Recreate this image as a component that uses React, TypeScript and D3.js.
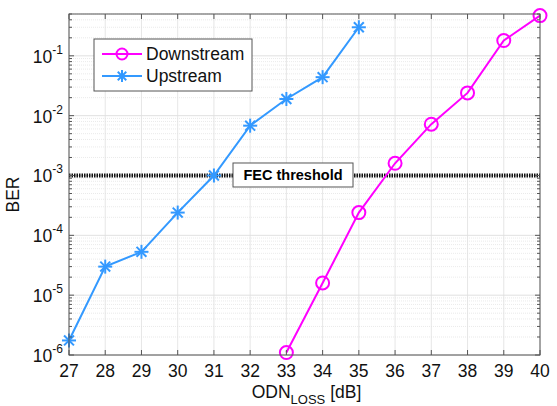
import { useEffect, useRef } from "react"
import * as d3 from "d3"

const xTicks = [27, 28, 29, 30, 31, 32, 33, 34, 35, 36, 37, 38, 39, 40]
const yDecades = [-6, -5, -4, -3, -2, -1]

const downX = [33, 34, 35, 36, 37, 38, 39, 40]
const downBER = [1.1e-6, 1.6e-5, 2.4e-4, 1.6e-3, 7.2e-3, 2.4e-2, 0.18, 0.47]

const upX = [27, 28, 29, 30, 31, 32, 33, 34, 35]
const upBER = [1.75e-6, 3.0e-5, 5.3e-5, 2.4e-4, 1.0e-3, 6.8e-3, 1.9e-2, 4.4e-2, 0.3]

const fecLevel = 1e-3
const fecLabel = "FEC threshold"
const seriesNames = ["Downstream", "Upstream"]

const W = 557
const H = 406
const margin = { top: 14, right: 17, bottom: 51, left: 69 }
const FONT = "Liberation Sans, Arial, sans-serif"
const PINK = "#ff00ff"
const BLUE = "#3399ff"

function asterisk(g: d3.Selection<SVGGElement, unknown, null, undefined>, cx: number, cy: number, r: number, color: string) {
  const a = g.append("g").attr("transform", `translate(${cx},${cy})`)
  for (let k = 0; k < 4; k++) {
    const ang = (k * Math.PI) / 4
    a.append("line")
      .attr("x1", -r * Math.cos(ang)).attr("y1", -r * Math.sin(ang))
      .attr("x2", r * Math.cos(ang)).attr("y2", r * Math.sin(ang))
      .attr("stroke", color).attr("stroke-width", 2)
  }
}

export default function App() {
  const ref = useRef<SVGSVGElement>(null)

  useEffect(() => {
    if (!ref.current) return
    const svg = d3.select(ref.current)
    svg.selectAll("*").remove()

    const iw = W - margin.left - margin.right
    const ih = H - margin.top - margin.bottom

    const x = d3.scaleLinear().domain([27, 40]).range([0, iw])
    const y = d3.scaleLog().domain([1e-6, 0.5]).range([ih, 0])

    svg.append("rect").attr("width", W).attr("height", H).attr("fill", "#fff")
    const g = svg.append("g").attr("transform", `translate(${margin.left},${margin.top})`)

    // minor grid
    const minor: number[] = []
    for (const d of yDecades) {
      for (let m = 2; m <= 9; m++) {
        const v = m * Math.pow(10, d)
        if (v <= 0.5) minor.push(v)
      }
    }
    g.selectAll(".ymin").data(minor).enter().append("line")
      .attr("x1", 0).attr("x2", iw)
      .attr("y1", d => y(d)).attr("y2", d => y(d))
      .attr("stroke", "#e4e4e4").attr("stroke-width", 0.8).attr("stroke-dasharray", "1,1")

    // major grid
    g.selectAll(".ymaj").data(yDecades).enter().append("line")
      .attr("x1", 0).attr("x2", iw)
      .attr("y1", d => y(Math.pow(10, d))).attr("y2", d => y(Math.pow(10, d)))
      .attr("stroke", "#d8d8d8").attr("stroke-width", 0.8)
    g.selectAll(".xmaj").data(xTicks).enter().append("line")
      .attr("y1", 0).attr("y2", ih)
      .attr("x1", d => x(d)).attr("x2", d => x(d))
      .attr("stroke", "#e0e0e0").attr("stroke-width", 0.8)

    // FEC threshold
    g.append("line")
      .attr("x1", 0).attr("x2", iw)
      .attr("y1", y(fecLevel)).attr("y2", y(fecLevel))
      .attr("stroke", "#111").attr("stroke-width", 4).attr("stroke-dasharray", "1.5,1")

    // lines
    const line = d3.line<[number, number]>().x(d => x(d[0])).y(d => y(d[1]))
    const upData = upX.map((v, i) => [v, upBER[i]] as [number, number])
    const downData = downX.map((v, i) => [v, downBER[i]] as [number, number])

    g.append("path").datum(upData).attr("d", line)
      .attr("fill", "none").attr("stroke", BLUE).attr("stroke-width", 2)
    upData.forEach(d => asterisk(g, x(d[0]), y(d[1]), 7, BLUE))

    g.append("path").datum(downData).attr("d", line)
      .attr("fill", "none").attr("stroke", PINK).attr("stroke-width", 2)
    g.selectAll(".dm").data(downData).enter().append("circle")
      .attr("cx", d => x(d[0])).attr("cy", d => y(d[1])).attr("r", 6.5)
      .attr("fill", "none").attr("stroke", PINK).attr("stroke-width", 2)

    // FEC label
    const fx = 164, fw = 120, fh = 24
    g.append("rect")
      .attr("x", fx).attr("y", y(fecLevel) - fh / 2 - 0.5).attr("width", fw).attr("height", fh)
      .attr("fill", "#fff").attr("stroke", "#555").attr("stroke-width", 1)
    g.append("text")
      .attr("x", fx + fw / 2).attr("y", y(fecLevel) + 5)
      .attr("text-anchor", "middle")
      .style("font-family", FONT).style("font-size", "14.5px").style("font-weight", "bold")
      .text(fecLabel)

    // axes box and ticks
    g.append("rect").attr("width", iw).attr("height", ih)
      .attr("fill", "none").attr("stroke", "#555").attr("stroke-width", 1)
    xTicks.forEach(t => {
      g.append("line").attr("x1", x(t)).attr("x2", x(t)).attr("y1", ih).attr("y2", ih - 5).attr("stroke", "#555")
      g.append("line").attr("x1", x(t)).attr("x2", x(t)).attr("y1", 0).attr("y2", 5).attr("stroke", "#555")
      g.append("text").attr("x", x(t)).attr("y", ih + 22)
        .attr("text-anchor", "middle")
        .style("font-family", FONT).style("font-size", "17.5px").attr("fill", "#111")
        .text(String(t))
    })
    yDecades.forEach(d => {
      const yy = y(Math.pow(10, d))
      g.append("line").attr("x1", 0).attr("x2", 5).attr("y1", yy).attr("y2", yy).attr("stroke", "#555")
      g.append("line").attr("x1", iw).attr("x2", iw - 5).attr("y1", yy).attr("y2", yy).attr("stroke", "#555")
      const t = g.append("text").attr("x", -6).attr("y", yy + 7)
        .attr("text-anchor", "end")
        .style("font-family", FONT).style("font-size", "17.5px").attr("fill", "#111")
      t.append("tspan").text("10")
      t.append("tspan").attr("dy", -9).style("font-size", "12px").text(String(d))
    })
    minor.forEach(v => {
      const yy = y(v)
      g.append("line").attr("x1", 0).attr("x2", 3).attr("y1", yy).attr("y2", yy).attr("stroke", "#555")
      g.append("line").attr("x1", iw).attr("x2", iw - 3).attr("y1", yy).attr("y2", yy).attr("stroke", "#555")
    })

    // axis labels
    const xl = g.append("text").attr("x", iw / 2 + 2).attr("y", ih + 43)
      .attr("text-anchor", "middle")
      .style("font-family", FONT).style("font-size", "17.5px").attr("fill", "#111")
    xl.append("tspan").text("ODN")
    xl.append("tspan").attr("dy", 6).style("font-size", "13px").text("LOSS")
    xl.append("tspan").attr("dy", -6).text(" [dB]")

    g.append("text")
      .attr("transform", `translate(${-50},${ih / 2 + 10}) rotate(-90)`)
      .attr("text-anchor", "middle")
      .style("font-family", FONT).style("font-size", "17.5px").attr("fill", "#111")
      .text("BER")

    // legend
    const lg = g.append("g").attr("transform", `translate(${94 - margin.left},${39 - margin.top})`)
    lg.append("rect").attr("width", 158).attr("height", 52)
      .attr("fill", "#fff").attr("stroke", "#555").attr("stroke-width", 1)
    seriesNames.forEach((name, i) => {
      const ly = 15 + i * 22
      const color = i === 0 ? PINK : BLUE
      lg.append("line").attr("x1", 8).attr("x2", 48).attr("y1", ly).attr("y2", ly)
        .attr("stroke", color).attr("stroke-width", 2)
      if (i === 0) {
        lg.append("circle").attr("cx", 28).attr("cy", ly).attr("r", 5.5)
          .attr("fill", "none").attr("stroke", color).attr("stroke-width", 2)
      } else {
        asterisk(lg as any, 28, ly, 6, color)
      }
      lg.append("text").attr("x", 52).attr("y", ly + 6)
        .style("font-family", FONT).style("font-size", "17.5px").attr("fill", "#111")
        .text(name)
    })
  }, [])

  return (
    <div style={{ position: "absolute", left: 0, top: 0 }}>
      <svg ref={ref} width={W} height={H} style={{ display: "block" }} />
    </div>
  )
}
